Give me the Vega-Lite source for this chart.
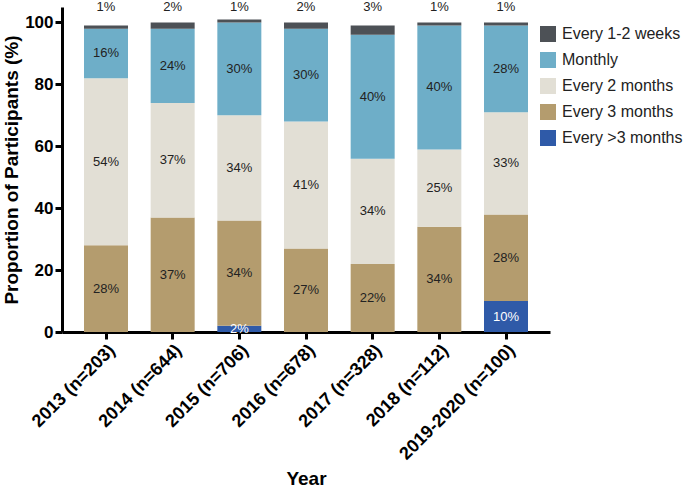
{
  "$schema": "https://vega.github.io/schema/vega-lite/v6.json",
  "autosize": {"type": "none"},
  "padding": {"left": 62, "top": 7, "right": 135, "bottom": 161},
  "width": 488,
  "height": 325,
  "config": {
    "font": "Liberation Sans",
    "view": {"stroke": null},
    "axis": {
      "grid": false,
      "domainColor": "#000",
      "domainWidth": 3,
      "tickColor": "#000",
      "tickWidth": 3,
      "tickSize": 7,
      "labelColor": "#000",
      "labelFontWeight": "bold",
      "titleColor": "#000",
      "titleFontWeight": "bold",
      "titleFontSize": 19
    }
  },
  "data": {
    "values": [
      {"year": "2013 (n=203)", "freq": "Every >3 months", "pct": 0},
      {"year": "2013 (n=203)", "freq": "Every 3 months", "pct": 28},
      {"year": "2013 (n=203)", "freq": "Every 2 months", "pct": 54},
      {"year": "2013 (n=203)", "freq": "Monthly", "pct": 16},
      {"year": "2013 (n=203)", "freq": "Every 1-2 weeks", "pct": 1},
      {"year": "2014 (n=644)", "freq": "Every >3 months", "pct": 0},
      {"year": "2014 (n=644)", "freq": "Every 3 months", "pct": 37},
      {"year": "2014 (n=644)", "freq": "Every 2 months", "pct": 37},
      {"year": "2014 (n=644)", "freq": "Monthly", "pct": 24},
      {"year": "2014 (n=644)", "freq": "Every 1-2 weeks", "pct": 2},
      {"year": "2015 (n=706)", "freq": "Every >3 months", "pct": 2},
      {"year": "2015 (n=706)", "freq": "Every 3 months", "pct": 34},
      {"year": "2015 (n=706)", "freq": "Every 2 months", "pct": 34},
      {"year": "2015 (n=706)", "freq": "Monthly", "pct": 30},
      {"year": "2015 (n=706)", "freq": "Every 1-2 weeks", "pct": 1},
      {"year": "2016 (n=678)", "freq": "Every >3 months", "pct": 0},
      {"year": "2016 (n=678)", "freq": "Every 3 months", "pct": 27},
      {"year": "2016 (n=678)", "freq": "Every 2 months", "pct": 41},
      {"year": "2016 (n=678)", "freq": "Monthly", "pct": 30},
      {"year": "2016 (n=678)", "freq": "Every 1-2 weeks", "pct": 2},
      {"year": "2017 (n=328)", "freq": "Every >3 months", "pct": 0},
      {"year": "2017 (n=328)", "freq": "Every 3 months", "pct": 22},
      {"year": "2017 (n=328)", "freq": "Every 2 months", "pct": 34},
      {"year": "2017 (n=328)", "freq": "Monthly", "pct": 40},
      {"year": "2017 (n=328)", "freq": "Every 1-2 weeks", "pct": 3},
      {"year": "2018 (n=112)", "freq": "Every >3 months", "pct": 0},
      {"year": "2018 (n=112)", "freq": "Every 3 months", "pct": 34},
      {"year": "2018 (n=112)", "freq": "Every 2 months", "pct": 25},
      {"year": "2018 (n=112)", "freq": "Monthly", "pct": 40},
      {"year": "2018 (n=112)", "freq": "Every 1-2 weeks", "pct": 1},
      {"year": "2019-2020 (n=100)", "freq": "Every >3 months", "pct": 10},
      {"year": "2019-2020 (n=100)", "freq": "Every 3 months", "pct": 28},
      {"year": "2019-2020 (n=100)", "freq": "Every 2 months", "pct": 33},
      {"year": "2019-2020 (n=100)", "freq": "Monthly", "pct": 28},
      {"year": "2019-2020 (n=100)", "freq": "Every 1-2 weeks", "pct": 1}
    ]
  },
  "transform": [
    {"calculate": "indexof(['Every >3 months','Every 3 months','Every 2 months','Monthly','Every 1-2 weeks'], datum.freq)", "as": "k"},
    {"stack": "pct", "groupby": ["year"], "sort": [{"field": "k", "order": "ascending"}], "as": ["y0", "y1"]},
    {"calculate": "(datum.y0 + datum.y1) / 2", "as": "mid"},
    {"calculate": "datum.pct + '%'", "as": "lab"}
  ],
  "encoding": {
    "x": {
      "field": "year",
      "type": "nominal",
      "sort": null,
      "scale": {"paddingInner": 0.34, "paddingOuter": 0.33},
      "axis": {
        "title": "Year",
        "labelAngle": -45,
        "labelFontSize": 18,
        "labelPadding": 2,
        "titlePadding": 6
      }
    }
  },
  "layer": [
    {
      "mark": {"type": "bar"},
      "encoding": {
        "y": {
          "field": "y0",
          "type": "quantitative",
          "scale": {"domain": [0, 105], "nice": false},
          "axis": {
            "title": "Proportion of Participants (%)",
            "values": [0, 20, 40, 60, 80, 100],
            "labelFontSize": 17,
            "labelPadding": 2,
            "titlePadding": 3
          }
        },
        "y2": {"field": "y1"},
        "color": {
          "field": "freq",
          "type": "nominal",
          "scale": {
            "domain": ["Every 1-2 weeks", "Monthly", "Every 2 months", "Every 3 months", "Every >3 months"],
            "range": ["#4d5156", "#6eaec8", "#e2dfd5", "#b49c6e", "#2f5aa8"]
          },
          "legend": {
            "title": null,
            "orient": "none",
            "legendX": 478,
            "legendY": 19,
            "symbolType": "square",
            "symbolSize": 256,
            "symbolStrokeWidth": 0,
            "labelFontSize": 16,
            "labelColor": "#222",
            "rowPadding": 10,
            "labelOffset": 6
          }
        }
      }
    },
    {
      "mark": {"type": "text", "fontSize": 13},
      "transform": [{"filter": "datum.pct > 0 && datum.freq != 'Every 1-2 weeks'"}],
      "encoding": {
        "y": {"field": "mid", "type": "quantitative"},
        "text": {"field": "lab"},
        "color": {"condition": {"test": "datum.freq == 'Every >3 months'", "value": "#ffffff"}, "value": "#222222"}
      }
    },
    {
      "mark": {"type": "text", "fontSize": 13, "color": "#222222"},
      "transform": [{"filter": "datum.freq == 'Every 1-2 weeks'"}],
      "encoding": {
        "y": {"datum": 105},
        "text": {"field": "lab"}
      }
    }
  ]
}
